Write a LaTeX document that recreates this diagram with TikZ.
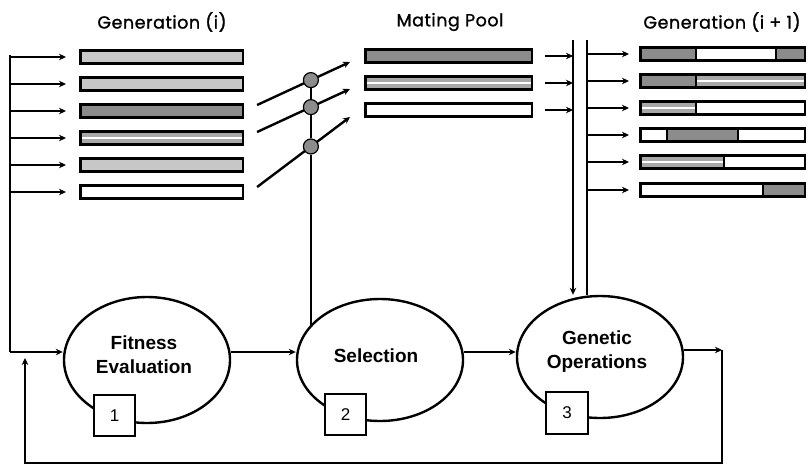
\documentclass[tikz,border=0pt]{standalone}
\usepackage{fontspec}
\setmainfont{Liberation Sans}
\newfontfamily\titlefont[FakeBold=1.2,LetterSpace=3]{Poppins}
\usetikzlibrary{arrows.meta,calc,shapes.geometric}

\definecolor{lightbar}{gray}{0.78}
\definecolor{midbar}{gray}{0.66}
\definecolor{darkbar}{gray}{0.55}
\definecolor{dotgray}{gray}{0.55}

% fill a part of a bar, from fraction #1 to fraction #2 of its width
\newcommand\barseg[3]{%
  \fill[#3] ($(path picture bounding box.south west)!#1!(path picture bounding box.south east)$)
    rectangle ($(path picture bounding box.north west)!#2!(path picture bounding box.north east)$);}
% thin white stripe along the middle of a bar part
\newcommand\barstripe[2]{%
  \draw[white,line width=1.2pt] ($(path picture bounding box.west)!#1!(path picture bounding box.east)$)
    -- ($(path picture bounding box.west)!#2!(path picture bounding box.east)$);}
% divider between two bar parts
\newcommand\barcut[1]{%
  \draw[line width=1.8pt] ($(path picture bounding box.south west)!#1!(path picture bounding box.south east)$)
    -- ($(path picture bounding box.north west)!#1!(path picture bounding box.north east)$);}

\begin{document}
\begin{tikzpicture}[x=1pt,y=-1pt,
  line width=2.4pt,
  >={Stealth[length=7pt,width=6.5pt]},
  bar/.style={draw, line width=2.6pt, minimum height=12.5pt, inner sep=0pt, anchor=west, fill=white},
  geni/.style={bar, minimum width=162.5pt},
  pool/.style={bar, minimum width=166.5pt},
  genj/.style={bar, minimum width=164.5pt},
  light/.style={path picture={\barseg{0}{1}{lightbar}}},
  dark/.style={path picture={\barseg{0}{1}{darkbar}}},
  striped/.style={path picture={\barseg{0}{1}{midbar}\barstripe{0}{1}}},
  stage/.style={draw, ellipse, line width=2.4pt, inner sep=0pt},
  stagetext/.style={align=center, inner sep=0pt, font=\fontsize{19}{24}\selectfont\bfseries},
  numbox/.style={draw, fill=white, line width=2.4pt, minimum size=41.5pt, inner sep=0pt,
    font=\fontsize{17}{20}\selectfont},
  dot/.style={circle, draw, line width=1.2pt, fill=dotgray, minimum size=15pt, inner sep=0pt},
  title/.style={font=\titlefont\fontsize{17.5}{21}\selectfont}
]
\useasboundingbox (0,0) rectangle (809,469);

% titles
\node[title] (tgi) at (162,22) {Generation (i)};
\node[title] (tmp) at (450,22) {Mating Pool};
\node[title] (tgj) at (722,22) {Generation (i + 1)};

% generation i
\node[geni, light]   (g1) at (79,57)  {};
\node[geni, light]   (g2) at (79,84)  {};
\node[geni, dark]    (g3) at (79,111) {};
\node[geni, striped] (g4) at (79,138) {};
\node[geni, light]   (g5) at (79,165) {};
\node[geni]          (g6) at (79,192) {};

% mating pool
\node[pool, dark]    (m1) at (364,56)  {};
\node[pool, striped] (m2) at (364,83)  {};
\node[pool]          (m3) at (364,110) {};

% generation i+1
\node[genj, path picture={\barseg{0}{0.34}{darkbar}\barseg{0.824}{1}{darkbar}\barcut{0.34}\barcut{0.824}}]
  (n1) at (639,54) {};
\node[genj, path picture={\barseg{0}{0.34}{darkbar}\barseg{0.34}{1}{midbar}\barstripe{0.34}{1}\barcut{0.34}}]
  (n2) at (639,81) {};
\node[genj, path picture={\barseg{0}{0.34}{midbar}\barstripe{0}{0.34}\barcut{0.34}}]
  (n3) at (639,108) {};
\node[genj, path picture={\barseg{0.164}{0.594}{darkbar}\barcut{0.164}\barcut{0.594}}]
  (n4) at (639,135) {};
\node[genj, path picture={\barseg{0}{0.51}{midbar}\barstripe{0}{0.51}\barcut{0.51}}]
  (n5) at (639,162) {};
\node[genj, path picture={\barseg{0.745}{1}{darkbar}\barcut{0.745}}]
  (n6) at (639,190) {};

% stages
\node[stage, minimum width=166pt, minimum height=126pt] (fe)  at (147,360) {};
\node[stage, minimum width=166pt, minimum height=122pt] (sel) at (380,360) {};
\node[stage, minimum width=166pt, minimum height=122pt] (go)  at (600,357) {};
\node[stagetext] (fet)  at (144,355) {Fitness\\Evaluation};
\node[stagetext] (selt) at (376,356) {Selection};
\node[stagetext] (got)  at (597,352) {Genetic\\Operations};
\node[numbox] (b1) at (114.5,415.5) {1};
\node[numbox] (b2) at (345.5,414.5) {2};
\node[numbox] (b3) at (567,413)     {3};

% population fed into fitness evaluation
\coordinate (ltop) at (10,55);
\coordinate (ljoin) at (10,352);
\draw (ltop) -- (ljoin);
\foreach \b in {g1,g2,g3,g4,g5,g6}
  \draw[->] (ltop |- \b) -- ([xshift=-13pt]\b.west);
\draw[->] (ljoin) -- (fe.west |- ljoin);

% selection of parents
\draw[->] ([shift={(13,-6)}]g3.east) -- node[dot, pos=0.579] (s1) {} ([shift={(-14,6)}]m1.west);
\draw[->] ([shift={(13,-6)}]g4.east) -- node[dot, pos=0.579] (s2) {} ([shift={(-14,6)}]m2.west);
\draw[->] ([shift={(13,-5)}]g6.east) -- node[dot, pos=0.579] (s3) {} ([shift={(-14,7)}]m3.west);
\draw (s1) -- (s2);
\draw (s2) -- (s3);
\draw (s3) -- (s3 |- sel.154.6);

% stage to stage
\draw[->] (fe.east |- 0,352) -- (sel.west |- 0,352);
\draw[->] (sel.east |- 0,352) -- (go.west |- 0,352);

% mating pool into genetic operations
\coordinate (t1top) at (573,40);
\coordinate (t2top) at (587,40);
\foreach \b in {m1,m2,m3}
  \draw[->] ([xshift=12pt]\b.east) -- (t1top |- \b);
\draw[->] (t1top) -- (t1top |- go.north);
\draw (t2top) -- (t2top |- go.north);
\foreach \b in {n1,n2,n3,n4,n5,n6}
  \draw[->] (t2top |- \b) -- ([xshift=-10pt]\b.west);

% feedback loop
\coordinate (gocorner) at (722,350);
\coordinate (fbright) at (722,463);
\coordinate (fbleft) at (25,463);
\coordinate (fbend) at (25,358);
\draw[->] (go.east |- gocorner) -- (gocorner);
\draw[->] (gocorner) -- (fbright) -- (fbleft) -- (fbend);
\end{tikzpicture}
\end{document}
